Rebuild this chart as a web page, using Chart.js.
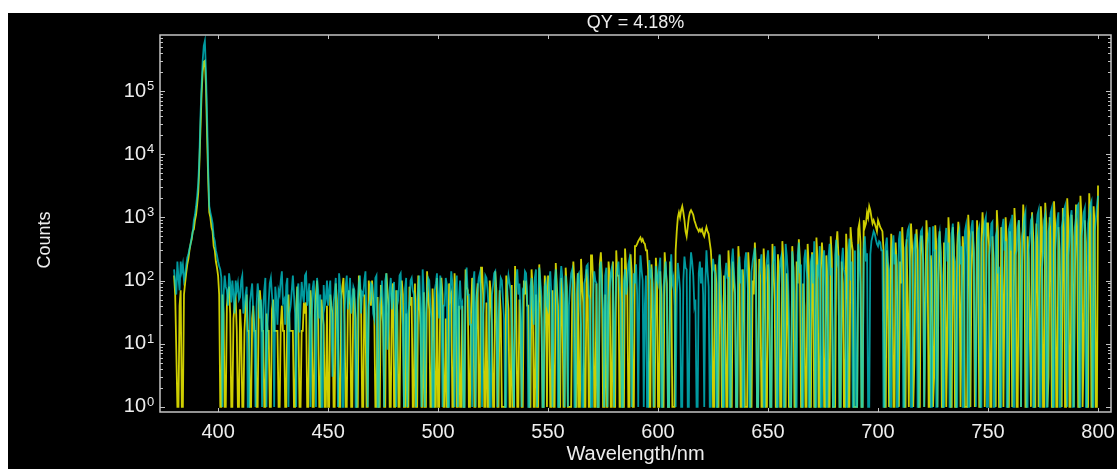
<!DOCTYPE html>
<html>
<head>
<meta charset="utf-8">
<script src="https://cdn.jsdelivr.net/npm/chart.js@4.4.1/dist/chart.umd.min.js"></script>
<style>
html,body{margin:0;background:#fff;}
#wrap{position:absolute;left:8px;top:13px;width:1109px;height:456px;background:#000;}
</style>
</head>
<body>
<div id="wrap"><canvas id="grafico"></canvas></div>
<script>
// wavelength grid, 0.5 nm steps from 380 to 800
const inicio=380, paso=0.5;

const titulo="QY = 4.18%";
const tituloX="Wavelength/nm";
const tituloY="Counts";

const ticksX=[400,450,500,550,600,650,700,750,800];
const decadas=[0,1,2,3,4,5];

// cyan trace, one row = 10 nm
const cian=[
150,90,60,200,110,70,200,140,180,100, 120,170,230,260,320,380,480,600,900,1100,
1500,2200,3500,9000,40000,120000,300000,520000,620000,200000, 40000,6000,1500,1200,1000,800,500,420,300,250,
200,170,150,110,1,60,120,80,70,40, 130,90,45,100,60,30,100,70,90,50,
55,100,120,30,40,60,80,1,1,45, 65,90,30,12,1,40,90,60,25,50,
1,35,70,110,1,20,45,90,110,60, 35,1,80,50,20,70,60,100,140,45,
50,20,85,110,1,30,40,70,120,60, 30,1,70,90,15,40,95,60,45,120,
130,40,60,90,1,25,75,100,35,1, 110,70,25,60,1,1,85,40,50,100,
40,70,100,20,3,45,65,110,20,1, 130,80,55,1,1,30,80,120,35,60,
110,30,45,80,70,1,1,50,90,120, 30,65,60,100,140,20,1,40,50,90,
85,30,25,110,120,1,1,40,60,100, 40,1,100,130,8,25,70,110,35,60,
95,20,1,70,55,120,130,40,20,1, 75,110,1,30,45,100,110,70,60,20,
1,50,80,120,35,1,150,60,1,30, 65,110,100,40,25,1,1,70,90,130,
55,25,120,80,1,40,40,110,85,1, 1,60,140,90,30,1,70,120,1,50,
100,40,45,1,1,90,160,60,60,20, 20,1,95,140,1,45,75,110,130,60,
1,30,50,120,110,70,35,1,1,60, 85,130,140,40,1,25,60,110,100,50,
25,1,1,80,120,90,70,20,4,1, 45,100,150,60,90,30,1,70,65,140,
130,60,1,1,80,110,40,20,110,150, 1,45,160,100,55,1,1,80,95,40,
35,90,140,60,1,25,100,150,60,1, 1,90,170,110,45,1,120,70,1,40,
80,130,150,70,1,1,60,120,130,40, 20,1,1,90,110,170,180,60,50,1,
1,60,140,100,90,1,1,150,200,80, 35,1,120,160,1,40,75,130,160,70,
1,30,110,150,200,90,45,1,1,100, 150,60,85,180,220,70,1,40,130,90,
180,60,1,70,250,150,100,1,40,120, 1,1,210,120,140,60,1,30,170,110,
90,160,230,1,1,80,130,200,60,1, 1,140,260,90,110,40,1,60,190,120,
70,1,1,100,240,160,150,1,1,120, 280,200,120,40,50,1,1,130,200,90,
160,60,1,90,300,140,80,1,1,110, 220,150,130,1,1,170,260,80,40,1,
1,120,190,110,110,1,1,200,320,140, 70,1,1,160,240,90,150,1,1,200,
280,120,60,1,1,140,200,260,330,80, 1,1,120,180,260,70,1,1,90,210,
300,140,1,1,170,220,350,90,1,1, 80,200,240,110,1,1,380,250,130,30,
1,1,290,160,60,1,1,250,400,130, 180,1,1,220,310,150,100,1,1,200,
260,90,420,1,1,180,140,350,1,1, 220,300,80,1,1,240,380,120,160,1,
1,250,440,200,250,1,1,200,330,150, 120,1,1,280,460,100,200,1,1,300,
1,1,380,240,90,1,1,310,500,200, 270,1,1,260,420,500,600,550,450,380,
350,420,400,300,300,1,1,350,480,200, 150,1,1,300,520,180,260,1,1,450,
600,250,90,1,1,330,430,620,700,140, 1,1,220,400,550,120,1,1,380,600,
650,200,1,12,160,380,500,700,1,1, 720,300,300,1,1,450,580,250,120,1,
1,400,680,200,400,1,1,550,800,260, 200,1,1,500,620,180,350,1,1,600,
750,240,1,1,450,700,900,300,6,1, 280,600,700,1,1,400,520,850,1000,1,
1,250,380,800,850,1,1,500,600,140, 150,1,1,700,950,300,420,1,1,650,
780,300,1100,1,1,250,300,700,900,30, 1,500,650,1000,1200,1,1,300,480,900,
1000,1,1,400,700,1100,1300,1,1,150, 250,900,1100,1,1,600,800,1200,1400,1,
1,300,550,900,1200,1,1,700,900,1300, 1500,4,1,250,400,1000,1300,1,1,700,
1000,1500,1600,1,1,500,700,1200,1400,1, 1,800,1100,1600,1800,1,1,600,900,1500,
2200
];

// yellow trace, one row = 10 nm
const amarillo=[
120,60,8,1,1,40,70,1,1,60, 90,130,180,220,300,380,450,600,650,900,
1100,1600,2500,7000,25000,90000,200000,290000,300000,120000, 20000,4000,1200,1000,700,600,350,300,200,160,
120,60,1,1,60,30,1,1,40,60, 80,30,1,1,25,40,50,16,1,1,
35,16,1,1,16,40,60,16,16,1, 1,25,40,16,16,1,1,50,70,40,
16,16,1,1,30,16,16,1,1,35, 50,16,16,16,16,1,1,20,40,16,
16,1,1,40,60,16,16,16,16,1, 1,35,80,20,1,1,16,16,45,30,
45,1,1,16,70,40,1,1,30,60, 100,20,1,1,50,30,20,1,1,40,
1,1,60,40,30,1,1,90,50,15, 1,1,50,80,110,20,1,1,40,70,
40,1,1,75,50,25,1,1,120,80, 45,1,1,60,30,1,1,100,60,40,
100,50,30,1,1,55,1,1,85,40, 20,1,1,130,70,40,1,1,60,90,
1,1,70,30,1,1,45,100,60,1, 1,30,1,1,80,40,55,1,1,90,
1,1,120,50,20,1,1,65,1,1, 140,60,35,1,1,75,30,1,1,110,
1,1,50,110,60,1,1,25,1,1, 90,50,60,1,1,130,60,1,1,40,
1,1,40,1,1,150,80,70,1,1, 30,110,60,1,1,55,90,1,1,160,
160,60,1,1,45,1,1,100,60,20, 1,1,140,70,1,1,70,30,1,1,
1,1,120,60,35,1,1,85,1,1, 170,60,1,1,50,20,1,1,100,60,
100,40,40,1,1,150,80,1,1,60, 1,1,180,70,25,1,1,120,80,1,
120,60,1,1,70,1,1,190,80,40, 1,1,110,60,1,1,160,80,1,1,
1,1,60,200,90,1,1,130,1,1, 220,90,45,1,1,150,80,1,1,250,
250,100,1,1,90,1,1,180,280,120, 1,1,60,1,1,200,120,1,1,200,
1,1,300,120,120,1,1,230,1,1, 320,150,80,1,1,260,140,1,1,350,
350,380,420,450,480,420,450,400,380,300, 300,150,1,1,180,90,1,1,230,120,
1,1,140,60,1,1,280,150,90,1, 1,200,100,1,1,1,300,600,1000,1200,
1000,1300,1500,1200,900,600,500,700,1000,1200, 1300,1200,1100,900,800,700,650,600,650,600,
650,550,500,600,700,600,550,400,300,150, 1,1,180,90,1,1,250,120,1,1,
120,60,1,1,300,150,1,1,200,100, 60,1,1,350,160,1,1,150,70,1,
1,1,280,130,1,1,100,60,400,180, 1,1,220,100,1,1,320,150,1,1,
180,80,1,1,380,160,50,1,1,260, 120,1,1,420,200,1,1,130,60,1,
1,1,350,160,1,1,200,90,450,200, 1,1,90,40,1,1,380,170,1,1,
280,120,1,1,480,200,1,1,150,400, 200,1,1,250,110,1,1,500,220,1,
1,1,350,600,250,1,1,200,90,1, 1,550,250,1,1,700,400,300,1,1,
1,1,650,800,400,1,1,900,700,800, 1200,1000,1500,1300,1000,800,900,800,700,600,
900,800,700,650,600,300,1,1,300,150, 1,20,550,250,1,1,400,180,8,1,
200,90,700,300,1,1,450,30,1,200, 800,350,1,5,300,650,300,1,1,500,
500,200,1,60,900,400,1,1,250,120, 1,3,750,350,1,90,600,280,1,1,
400,180,1,12,1000,450,1,1,700,300, 1,1,350,850,400,1,40,500,220,1,
1,1,1100,500,1,150,600,280,1,6, 900,400,1,1,400,1200,550,1,25,800,
800,350,1,1,500,220,10,1,1300,600, 1,1,700,300,1,80,1000,450,1,1,
600,280,1,4,1400,650,1,1,900,400, 1,200,1600,700,1,1,500,220,15,1,
1200,550,1,1,800,350,1,60,1500,700, 1,1,1700,800,1,3,1000,450,1,1,
1800,800,1,1,700,300,30,1,1400,650, 1,1,2000,900,1,1,1100,500,1,120,
1600,700,1,1,2200,1000,1,8,900,400, 1,1,2400,1100,1,1,1500,700,1,1,
3200
];

let longitudes=cian.map((v,i)=>inicio+i*paso);

const fuente="'Liberation Sans', Arial, sans-serif";
const colorTexto="#eeeeee";
const colorMarco="#c4c4c4";

// frame, inward ticks, y labels with superscripts and axis titles
const marco={
id:"marco",
afterDatasetsDraw(chart){
const ctx=chart.ctx;
const a=chart.chartArea;
const sx=chart.scales.x, sy=chart.scales.y;
ctx.save();
ctx.strokeStyle=colorMarco;
ctx.lineWidth=1.5;
ctx.strokeRect(a.left,a.top,a.right-a.left,a.bottom-a.top);
ctx.lineWidth=1;
ctx.beginPath();
ticksX.forEach(t=>{
let px=Math.round(sx.getPixelForValue(t))+0.5;
ctx.moveTo(px,a.bottom);ctx.lineTo(px,a.bottom-4);
ctx.moveTo(px,a.top);ctx.lineTo(px,a.top+4);
});
for(let e=0;e<=5;e++){
for(let m=1;m<=9;m++){
let v=m*Math.pow(10,e);
if(v>sy.max) break;
let py=Math.round(sy.getPixelForValue(v))+0.5;
let l=(m===1)?5:3;
ctx.moveTo(a.left,py);ctx.lineTo(a.left+l,py);
ctx.moveTo(a.right,py);ctx.lineTo(a.right-l,py);
}
}
ctx.stroke();

ctx.fillStyle=colorTexto;
decadas.forEach(e=>{
let py=sy.getPixelForValue(Math.pow(10,e));
ctx.font="20px "+fuente;
ctx.textAlign="right";
ctx.textBaseline="middle";
ctx.fillText("10",a.left-14,py);
ctx.font="13px "+fuente;
ctx.textAlign="left";
ctx.textBaseline="alphabetic";
ctx.fillText(String(e),a.left-13,py-1);
});

let cx=(a.left+a.right)/2;
ctx.textAlign="center";
ctx.textBaseline="middle";
ctx.font="18px "+fuente;
ctx.fillText(titulo,cx,10);
ctx.font="20px "+fuente;
ctx.fillText(tituloX,cx,441);
ctx.translate(37,227);
ctx.rotate(-Math.PI/2);
ctx.font="18px "+fuente;
ctx.fillText(tituloY,0,0);
ctx.restore();
}
};

new Chart(document.getElementById("grafico"),{
type:"line",
data:{
labels:longitudes,
datasets:[
{label:"cian",data:cian,borderColor:"rgba(0,205,212,0.75)",borderWidth:1.8,pointRadius:0,tension:0},
{label:"amarillo",data:amarillo,borderColor:"rgba(228,228,0,0.9)",borderWidth:1.8,pointRadius:0,tension:0}
]
},
options:{
responsive:true,
maintainAspectRatio:false,
animation:false,
layout:{padding:{left:0,top:22,right:6,bottom:0}},
plugins:{legend:{display:false},tooltip:{enabled:false},title:{display:false}},
scales:{
x:{
type:"linear",
min:373.6,
max:805.9,
grid:{display:false},
border:{display:false},
ticks:{color:colorTexto,font:{family:fuente,size:20},padding:0,autoSkip:false,maxRotation:0},
afterBuildTicks:s=>{s.ticks=ticksX.map(v=>({value:v}));},
afterFit:s=>{s.height=57;s.paddingLeft=0;s.paddingRight=0;}
},
y:{
type:"logarithmic",
min:0.83,
max:770000,
grid:{display:false},
border:{display:false},
ticks:{display:false},
afterFit:s=>{s.width=152;}
}
}
},
plugins:[marco]
});
</script>
</body>
</html>
